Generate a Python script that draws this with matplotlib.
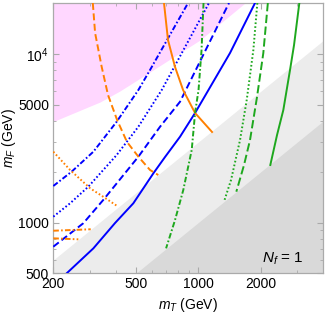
import matplotlib
matplotlib.use('Agg')
import matplotlib.pyplot as plt
from matplotlib.ticker import FixedLocator, FixedFormatter, LogLocator, NullFormatter

plt.rcParams['font.family'] = ['Liberation Sans', 'DejaVu Sans']
plt.rcParams['mathtext.fontset'] = 'custom'
plt.rcParams['mathtext.rm'] = 'Liberation Sans'
plt.rcParams['mathtext.it'] = 'Liberation Sans:italic'
plt.rcParams['lines.scale_dashes'] = False

# shaded regions (m_T, m_F in GeV)
pink_x = [200, 336, 419, 585, 1019, 1679]
pink_y = [3969, 5180, 6021, 7804, 12070, 20000]
light_x = [200, 4000]
light_y = [600, 12000]
dark_x = [500, 4000]
dark_y = [500, 4000]

# blue curves
blue_solid_x = [232, 312, 397, 486, 607, 691, 816, 964, 1421, 1875]
blue_solid_y = [500, 703, 994, 1300, 1957, 2446, 3225, 4458, 10110, 20000]
blue_dashed_x = [200, 279, 348, 514, 654, 816, 1405]
blue_dashed_y = [719, 990, 1360, 2456, 3698, 5200, 20000]
blue_dotted_x = [200, 241, 295, 404, 514, 666, 1125]
blue_dotted_y = [1083, 1300, 1631, 2513, 3698, 6103, 20000]
blue_dashdot_x = [200, 245, 312, 404, 514, 585, 892]
blue_dashdot_y = [1646, 2001, 2629, 3958, 6103, 8021, 20000]

# orange curves
orange_solid_x = [683, 714, 772, 844, 964, 1164]
orange_solid_y = [20000, 12070, 8355, 6103, 4458, 3440]
orange_dashed_x = [310, 318, 342, 367, 406, 453, 514, 585, 641]
orange_dashed_y = [20000, 13290, 8387, 5700, 4051, 3002, 2456, 2048, 1912]
orange_dotted_x = [200, 241, 301, 348, 411]
orange_dotted_y = [2629, 2048, 1595, 1422, 1241]
orange_dashdot1_x = [200, 303]
orange_dashdot1_y = [894, 912]
orange_dashdot2_x = [200, 264]
orange_dashdot2_y = [806, 795]

# green curves
green_solid_x = [3066, 2891, 2765, 2567, 2394, 2222]
green_solid_y = [20000, 11280, 8021, 4645, 3302, 2193]
green_dashed_x = [2162, 2056, 1917, 1774, 1660, 1524]
green_dashed_y = [20000, 10110, 5546, 3084, 2193, 1523]
green_dotted_x = [1924, 1841, 1710, 1588, 1437, 1329]
green_dotted_y = [20000, 10540, 5321, 3084, 1787, 1329]
green_dashdot_x = [1059, 1036, 1002, 964, 929, 846, 772, 699]
green_dashdot_y = [20000, 10540, 6103, 4458, 2691, 1559, 1035, 703]

xticks = [200, 500, 1000, 2000]
xtick_labels = ['200', '500', '1000', '2000']
yticks = [500, 1000, 5000, 10000]
ytick_labels = ['500', '1000', '5000', '$10^4$']

xmin, xmax = 200, 4000
ymin, ymax = 500, 20000

blue = '#0000ff'
orange = '#ff8000'
green = '#1ea81e'
dashed = (0, (5, 2.5))
dotted = (0, (1.2, 1.6))
dashdot = (0, (4, 1.6, 1.2, 1.6))

fig = plt.figure(figsize=(3.27, 3.13), dpi=100)
ax = fig.add_axes([0.163, 0.1268, 0.8257, 0.8636])
ax.set_xscale('log')
ax.set_yscale('log')

ax.fill_between(pink_x, pink_y, ymax, color='#ffd7ff', lw=0, zorder=1)
ax.fill_between(light_x, light_y, ymin, color='#ececec', lw=0, zorder=1)
ax.fill_between(dark_x, dark_y, ymin, color='#d9d9d9', lw=0, zorder=1)

lw = 1.4
ax.plot(blue_solid_x, blue_solid_y, color=blue, lw=lw, zorder=3)
ax.plot(blue_dashed_x, blue_dashed_y, color=blue, lw=lw, ls=dashed, zorder=3)
ax.plot(blue_dotted_x, blue_dotted_y, color=blue, lw=lw, ls=dotted, zorder=3)
ax.plot(blue_dashdot_x, blue_dashdot_y, color=blue, lw=lw, ls=dashdot, zorder=3)

ax.plot(orange_solid_x, orange_solid_y, color=orange, lw=lw, zorder=3)
ax.plot(orange_dashed_x, orange_dashed_y, color=orange, lw=lw, ls=dashed, zorder=3)
ax.plot(orange_dotted_x, orange_dotted_y, color=orange, lw=lw, ls=dotted, zorder=3)
ax.plot(orange_dashdot1_x, orange_dashdot1_y, color=orange, lw=lw, ls=dashdot, zorder=3)
ax.plot(orange_dashdot2_x, orange_dashdot2_y, color=orange, lw=lw, ls=dashdot, zorder=3)

ax.plot(green_solid_x, green_solid_y, color=green, lw=lw, zorder=3)
ax.plot(green_dashed_x, green_dashed_y, color=green, lw=lw, ls=(0, (6, 2.5)), zorder=3)
ax.plot(green_dotted_x, green_dotted_y, color=green, lw=lw, ls=dotted, zorder=3)
ax.plot(green_dashdot_x, green_dashdot_y, color=green, lw=lw, ls=dashdot, zorder=3)

ax.set_xlim(xmin, xmax)
ax.set_ylim(ymin, ymax)

ax.xaxis.set_major_locator(FixedLocator(xticks))
ax.xaxis.set_major_formatter(FixedFormatter(xtick_labels))
ax.yaxis.set_major_locator(FixedLocator(yticks))
ax.yaxis.set_major_formatter(FixedFormatter(ytick_labels))
ax.xaxis.set_minor_locator(LogLocator(base=10, subs=range(1, 10), numticks=20))
ax.yaxis.set_minor_locator(LogLocator(base=10, subs=range(1, 10), numticks=20))
ax.xaxis.set_minor_formatter(NullFormatter())
ax.yaxis.set_minor_formatter(NullFormatter())

ax.tick_params(which='both', direction='in', top=True, right=True, color='#aaaaaa',
               labelsize=10, pad=3)
ax.tick_params(which='major', length=4, width=0.8)
ax.tick_params(which='minor', length=2.5, width=0.6)
for s in ax.spines.values():
    s.set_color('#aaaaaa')
    s.set_linewidth(0.9)

ax.set_xlabel('$m_T$ (GeV)', fontsize=10, labelpad=3)
ax.set_ylabel('$m_F$ (GeV)', fontsize=10, labelpad=0)

ax.text(0.926, 0.053, '$N_f$ = 1', transform=ax.transAxes, ha='right', va='center',
        fontsize=11, zorder=4)

fig.savefig('out.png', dpi=100)
